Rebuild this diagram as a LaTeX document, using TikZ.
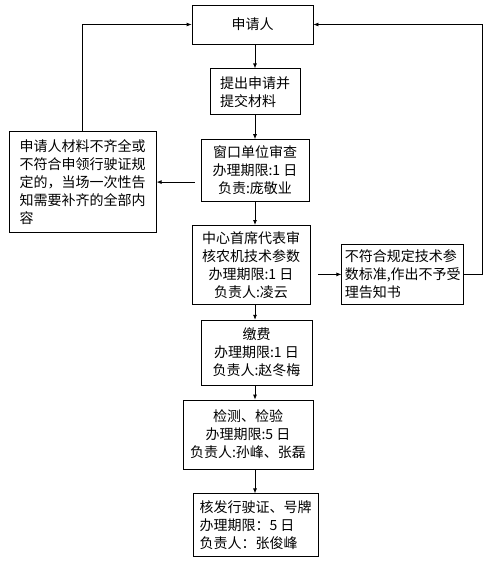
\documentclass[tikz,border=0pt]{standalone}
\usepackage{fontspec}
\newfontfamily\cjk{Noto Sans CJK SC}
\usetikzlibrary{arrows.meta,positioning}

\begin{document}
\begin{tikzpicture}[x=1pt,y=-1pt,>={Latex[length=5pt,width=4pt]},line width=0.8pt,
  box/.style={draw,align=center,inner sep=3pt,font=\cjk\fontsize{14}{18}\selectfont}]
  \useasboundingbox (0,0) rectangle (499,563);
  \node[box,minimum width=121pt,minimum height=39pt] (r) at (252.5,24.5) {申请人};
  \node[box,align=left,minimum width=90pt,minimum height=46pt,below=24pt of r,xshift=2.5pt] (sub) {提出申请并\\
  提交材料};
  \node[box,minimum width=108pt,minimum height=62pt,below=24pt of sub] (win) {窗口单位审查\\
  办理期限:1 日\\
  负责:庞敬业};
  \node[box,align=left,minimum width=147pt,minimum height=101pt,left=44pt of win,yshift=-11.5pt] (back) {申请人材料不齐全或\\
  不符合申领行驶证规\\
  定的，当场一次性告\\
  知需要补齐的全部内\\
  容};
  \node[box,minimum width=118pt,minimum height=79pt,below=23pt of win,xshift=-4pt] (ctr) {中心首席代表审\\
  核农机技术参数\\
  办理期限:1 日\\
  负责人:凌云};
  \node[box,align=left,minimum width=121pt,minimum height=60pt,right=31pt of ctr,yshift=-9.5pt] (rej) {不符合规定技术参\\
  数标准,作出不予受\\
  理告知书};
  \node[box,minimum width=111pt,minimum height=65pt,below=15pt of ctr,xshift=5.5pt] (fee) {缴费\\
  办理期限:1 日\\
  负责人:赵冬梅};
  \node[box,minimum width=130pt,minimum height=69pt,below=14pt of fee,xshift=-8.5pt] (test) {检测、检验\\
  办理期限:5 日\\
  负责人:孙峰、张磊};
  \node[box,align=left,minimum width=125pt,minimum height=63pt,below=24pt of test,xshift=7.5pt] (issue) {核发行驶证、号牌\\
  办理期限：5 日\\
  负责人：张俊峰};
  \draw[->] (r.south -| sub) -- (sub.north);
  \draw[->] (sub.south) -- (win.north);
  \draw[->] (win.south) -- (win.south |- ctr.north);
  \draw[->] (ctr.south -| win) -- (fee.north -| win);
  \draw[->] (fee.south -| win) -- (test.north -| win);
  \draw[->] (test.south -| win) -- (issue.north -| win);
  \draw[<-] (back.east) -- ++(38,0);
  \draw[->] (back.north) |- (r.west);
  \draw[<-] (rej.west) -- ++(-23,0);
  \draw[->] (rej.east) -- ++(18,0) |- (r.east);
\end{tikzpicture}
\end{document}
